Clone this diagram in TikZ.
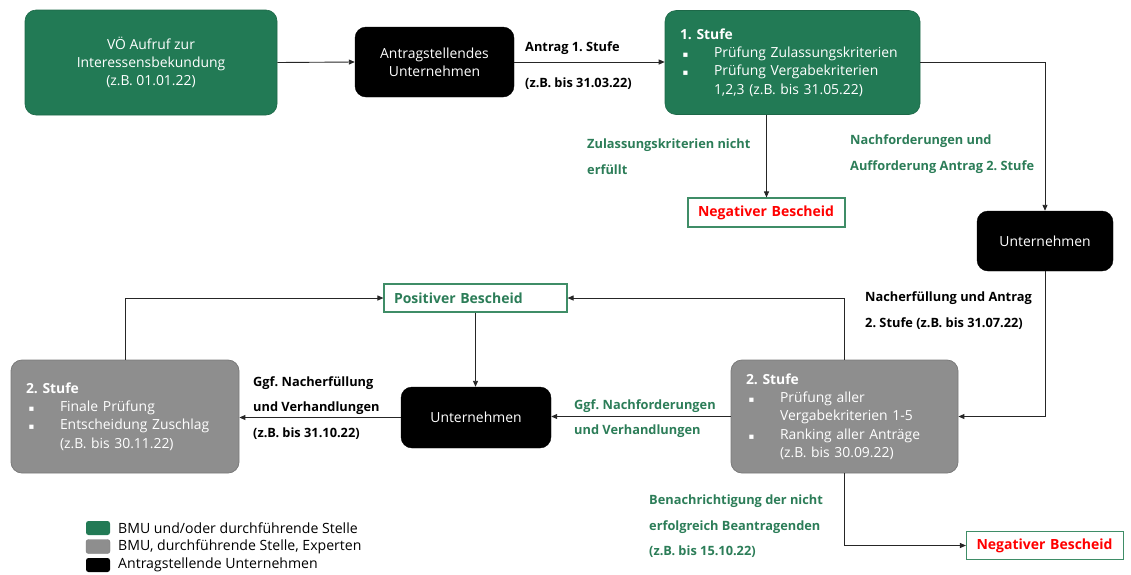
\documentclass[tikz,border=0pt]{standalone}
\usepackage{fontspec}
\setmainfont{Open Sans}
\newfontfamily\symfont{DejaVu Sans}
\usetikzlibrary{arrows.meta}
\definecolor{bmugreen}{HTML}{227A55}
\definecolor{lblgreen}{HTML}{2C7D58}
\definecolor{boxgray}{HTML}{8E8E8E}
\definecolor{graybord}{HTML}{7A7A7A}
\definecolor{negred}{HTML}{FF0000}
\definecolor{framegreen}{HTML}{3F8D67}
\newcommand{\bul}[1]{\makebox[34pt][l]{\hspace{2.5pt}{\symfont\fontsize{8.5}{8}\selectfont ▪}}#1}
\newcommand{\cont}[1]{\hspace*{34pt}#1}
\tikzset{
  box/.style={rounded corners=11pt, inner sep=0pt, align=center, text=white,
    font=\fontsize{13.9}{18.3}\selectfont},
  greenbox/.style={box, fill=bmugreen, draw=bmugreen!85!black, line width=0.6pt},
  blackbox/.style={box, fill=black, draw=black},
  graybox/.style={box, fill=boxgray, draw=graybord, line width=0.8pt},
  listbox/.style={align=left, inner xsep=15pt, inner ysep=0pt},
  result/.style={draw=framegreen, line width=1.1pt, fill=white, inner xsep=10pt, inner ysep=0pt,
    align=left, font=\bfseries\fontsize{14}{16}\selectfont},
  lbl/.style={anchor=west, inner sep=0pt, align=left,
    font=\fontsize{12.8}{25.5}\selectfont\bfseries},
  conn/.style={draw=black!85, line width=0.9pt, -{Triangle[length=6pt,width=5pt]}},
  legsq/.style={rounded corners=2.5pt, minimum width=24pt, minimum height=14pt, inner sep=0pt},
  legtxt/.style={anchor=west, inner sep=0pt, font=\fontsize{14.1}{16}\selectfont}
}
\begin{document}
\frenchspacing
\begin{tikzpicture}[x=1pt,y=-1pt]
\useasboundingbox (0,0) rectangle (1131,574);
% boxes
\node[greenbox, minimum width=252pt, minimum height=105pt] (voe) at (151,62.5)
  {VÖ Aufruf zur\\Interessensbekundung\\(z.B. 01.01.22)};
\node[blackbox, minimum width=159pt, minimum height=70pt] (antrag) at (434.5,62)
  {Antragstellendes\\Unternehmen};
\node[greenbox, listbox, text width=225pt, minimum height=104pt] (stufe1) at (792.5,62.5)
  {\textbf{1. Stufe}\\\bul{Prüfung Zulassungskriterien}\\\bul{Prüfung Vergabekriterien}\\\cont{1,2,3 (z.B. bis 31.05.22)}};
\node[result, text width=137pt, minimum height=29pt, text=negred] (neg1) at (766.5,212.5)
  {Negativer Bescheid};
\node[blackbox, minimum width=136pt, minimum height=60pt] (untR) at (1045,241)
  {Unternehmen};
\node[graybox, listbox, text width=197pt, minimum height=113pt] (stufe2R) at (844.5,416.5)
  {\textbf{2. Stufe}\\\bul{Prüfung aller}\\\cont{Vergabekriterien 1-5}\\\bul{Ranking aller Anträge}\\\cont{(z.B. bis 30.09.22)}};
\node[result, text width=163pt, minimum height=28pt, text=lblgreen] (pos) at (475.5,298)
  {Positiver Bescheid};
\node[blackbox, minimum width=150pt, minimum height=61pt] (untM) at (476,417.5)
  {Unternehmen};
\node[graybox, listbox, text width=198pt, minimum height=113pt] (stufe2L) at (125,416.5)
  {\textbf{2. Stufe}\\\bul{Finale Prüfung}\\\bul{Entscheidung Zuschlag}\\\cont{(z.B. bis 30.11.22)}};
\node[result, text width=137pt, minimum height=28pt, text=negred] (neg2) at (1045,545.5)
  {Negativer Bescheid};
% connectors
\draw[conn] (voe.east) -- (antrag.west);
\draw[conn] (antrag.east) -- (antrag.east -| stufe1.west);
\draw[conn] (stufe1.east) -| (untR.north);
\draw[conn] (stufe1.south -| neg1.north) -- (neg1.north);
\draw[conn] (untR.south) |- (stufe2R.east);
\draw[conn] (stufe2R.north) |- (pos.east);
\draw[conn] (stufe2L.north) |- (pos.west);
\draw[conn] (pos.south) -- (pos.south |- untM.north);
\draw[conn] (stufe2R.west) -- (stufe2R.west -| untM.east);
\draw[conn] (untM.west) -- (untM.west -| stufe2L.east);
\draw[conn] (stufe2R.south) |- (neg2.west);
% labels
\node[lbl] (l1) at (525,66) {Antrag 1. Stufe\\[10.5pt](z.B. bis 31.03.22)};
\node[lbl, text=lblgreen] (l2) at (587,156.5) {Zulassungskriterien nicht\\erfüllt};
\node[lbl, text=lblgreen] (l3) at (850,154) {Nachforderungen und\\Aufforderung Antrag 2. Stufe};
\node[lbl] (l4) at (865,310.5) {Nacherfüllung und Antrag\\2. Stufe (z.B. bis 31.07.22)};
\node[lbl, text=lblgreen] (l5) at (574,418.5) {Ggf. Nachforderungen\\und Verhandlungen};
\node[lbl] (l6) at (253,408) {Ggf. Nacherfüllung\\und Verhandlungen\\(z.B. bis 31.10.22)};
\node[lbl, text=lblgreen] (l7) at (649,526.5) {Benachrichtigung der nicht\\erfolgreich Beantragenden\\(z.B. bis 15.10.22)};
% legend
\node[legsq, fill=bmugreen] (g1) at (98,528) {};
\node[legsq, fill=boxgray, draw=graybord] (g2) at (98,546.5) {};
\node[legsq, fill=black] (g3) at (98,565) {};
\node[legtxt] (t1) at (118,528) {BMU und/oder durchführende Stelle};
\node[legtxt] (t2) at (118,546.5) {BMU, durchführende Stelle, Experten};
\node[legtxt] (t3) at (118,565) {Antragstellende Unternehmen};
\end{tikzpicture}
\end{document}
